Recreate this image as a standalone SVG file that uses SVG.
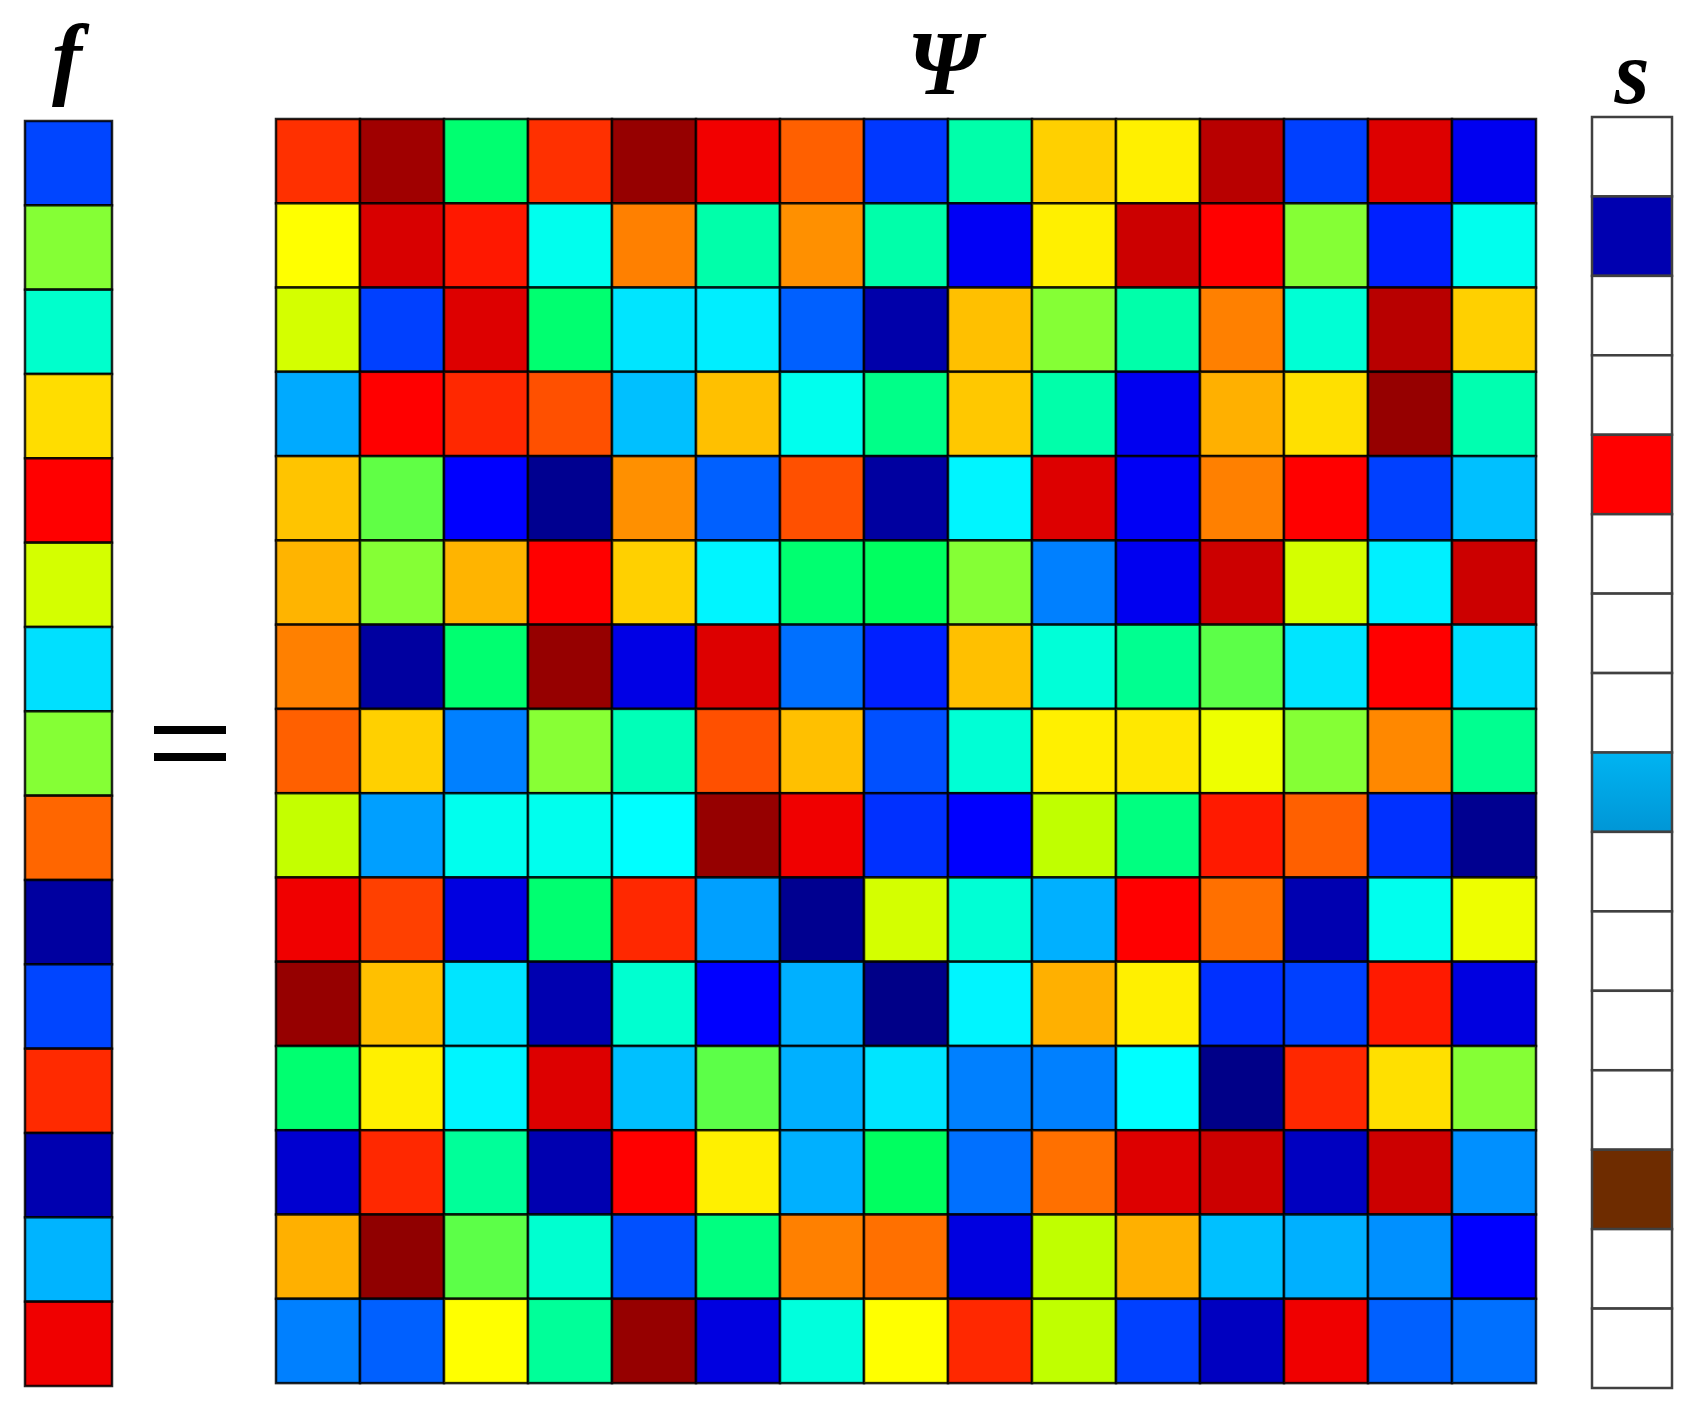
<svg xmlns="http://www.w3.org/2000/svg" width="1689" height="1406" viewBox="0 0 1689 1406">
<style>
.lbl{font-family:"Liberation Serif","Times New Roman",serif;font-weight:bold;font-style:italic;fill:#000;text-anchor:middle}
.c rect{stroke:#000;stroke-width:2.5;stroke-opacity:0.85}
.s rect{stroke:#404040;stroke-width:2.5}
</style>
<rect width="1689" height="1406" fill="#fff"/>
<g id="labels">
<text class="lbl" x="67" y="88" font-size="90">f</text>
<text class="lbl" x="944" y="94" font-size="92">Ψ</text>
<text class="lbl" x="1632" y="103" font-size="90">s</text>
</g>
<g id="equals" fill="#000">
<rect x="154" y="726" width="72" height="8"/>
<rect x="154" y="753" width="72" height="8"/>
</g>
<g id="f" class="c">
<rect x="25" y="121" width="87" height="84.3" fill="#0045FF"/>
<rect x="25" y="205.3" width="87" height="84.3" fill="#85FF35"/>
<rect x="25" y="289.7" width="87" height="84.3" fill="#00FFCC"/>
<rect x="25" y="374" width="87" height="84.3" fill="#FFDD00"/>
<rect x="25" y="458.3" width="87" height="84.3" fill="#FF0000"/>
<rect x="25" y="542.7" width="87" height="84.3" fill="#D4FF00"/>
<rect x="25" y="627" width="87" height="84.3" fill="#00E0FF"/>
<rect x="25" y="711.3" width="87" height="84.3" fill="#85FF35"/>
<rect x="25" y="795.7" width="87" height="84.3" fill="#FF6600"/>
<rect x="25" y="880" width="87" height="84.3" fill="#0000A0"/>
<rect x="25" y="964.3" width="87" height="84.3" fill="#0045FF"/>
<rect x="25" y="1048.7" width="87" height="84.3" fill="#FF2A00"/>
<rect x="25" y="1133" width="87" height="84.3" fill="#0000B0"/>
<rect x="25" y="1217.3" width="87" height="84.3" fill="#00B4FF"/>
<rect x="25" y="1301.7" width="87" height="84.3" fill="#F00000"/>
</g>
<g id="psi" class="c">
<g transform="translate(0,119)">
<rect x="276" width="84" height="84.3" fill="#FF3000"/><rect x="360" width="84" height="84.3" fill="#A00000"/><rect x="444" width="84" height="84.3" fill="#00FF70"/><rect x="528" width="84" height="84.3" fill="#FF3000"/><rect x="612" width="84" height="84.3" fill="#960000"/><rect x="696" width="84" height="84.3" fill="#F20000"/><rect x="780" width="84" height="84.3" fill="#FF6000"/><rect x="864" width="84" height="84.3" fill="#0038FF"/><rect x="948" width="84" height="84.3" fill="#00FFAA"/><rect x="1032" width="84" height="84.3" fill="#FFD000"/><rect x="1116" width="84" height="84.3" fill="#FFF000"/><rect x="1200" width="84" height="84.3" fill="#B80000"/><rect x="1284" width="84" height="84.3" fill="#0040FF"/><rect x="1368" width="84" height="84.3" fill="#DD0000"/><rect x="1452" width="84" height="84.3" fill="#0000F0"/>
</g>
<g transform="translate(0,203.3)">
<rect x="276" width="84" height="84.3" fill="#FFFF00"/><rect x="360" width="84" height="84.3" fill="#D80000"/><rect x="444" width="84" height="84.3" fill="#FF1800"/><rect x="528" width="84" height="84.3" fill="#00FFEE"/><rect x="612" width="84" height="84.3" fill="#FF8000"/><rect x="696" width="84" height="84.3" fill="#00FFAA"/><rect x="780" width="84" height="84.3" fill="#FF9000"/><rect x="864" width="84" height="84.3" fill="#00FFAA"/><rect x="948" width="84" height="84.3" fill="#0000F5"/><rect x="1032" width="84" height="84.3" fill="#FFF000"/><rect x="1116" width="84" height="84.3" fill="#CC0000"/><rect x="1200" width="84" height="84.3" fill="#FF0000"/><rect x="1284" width="84" height="84.3" fill="#85FF35"/><rect x="1368" width="84" height="84.3" fill="#0020FF"/><rect x="1452" width="84" height="84.3" fill="#00FFEE"/>
</g>
<g transform="translate(0,287.5)">
<rect x="276" width="84" height="84.3" fill="#D4FF00"/><rect x="360" width="84" height="84.3" fill="#0040FF"/><rect x="444" width="84" height="84.3" fill="#DD0000"/><rect x="528" width="84" height="84.3" fill="#00FF70"/><rect x="612" width="84" height="84.3" fill="#00E5FF"/><rect x="696" width="84" height="84.3" fill="#00EEFF"/><rect x="780" width="84" height="84.3" fill="#0060FF"/><rect x="864" width="84" height="84.3" fill="#0000AA"/><rect x="948" width="84" height="84.3" fill="#FFC000"/><rect x="1032" width="84" height="84.3" fill="#85FF35"/><rect x="1116" width="84" height="84.3" fill="#00FFAA"/><rect x="1200" width="84" height="84.3" fill="#FF8000"/><rect x="1284" width="84" height="84.3" fill="#00FFD5"/><rect x="1368" width="84" height="84.3" fill="#B80000"/><rect x="1452" width="84" height="84.3" fill="#FFD000"/>
</g>
<g transform="translate(0,371.8)">
<rect x="276" width="84" height="84.3" fill="#00AAFF"/><rect x="360" width="84" height="84.3" fill="#FF0000"/><rect x="444" width="84" height="84.3" fill="#FF2800"/><rect x="528" width="84" height="84.3" fill="#FF5000"/><rect x="612" width="84" height="84.3" fill="#00C0FF"/><rect x="696" width="84" height="84.3" fill="#FFC000"/><rect x="780" width="84" height="84.3" fill="#00FFEE"/><rect x="864" width="84" height="84.3" fill="#00FF88"/><rect x="948" width="84" height="84.3" fill="#FFC800"/><rect x="1032" width="84" height="84.3" fill="#00FFAA"/><rect x="1116" width="84" height="84.3" fill="#0000F0"/><rect x="1200" width="84" height="84.3" fill="#FFB000"/><rect x="1284" width="84" height="84.3" fill="#FFE000"/><rect x="1368" width="84" height="84.3" fill="#960000"/><rect x="1452" width="84" height="84.3" fill="#00FFB0"/>
</g>
<g transform="translate(0,456.1)">
<rect x="276" width="84" height="84.3" fill="#FFC400"/><rect x="360" width="84" height="84.3" fill="#60FF45"/><rect x="444" width="84" height="84.3" fill="#0000FF"/><rect x="528" width="84" height="84.3" fill="#000090"/><rect x="612" width="84" height="84.3" fill="#FF9000"/><rect x="696" width="84" height="84.3" fill="#0060FF"/><rect x="780" width="84" height="84.3" fill="#FF5000"/><rect x="864" width="84" height="84.3" fill="#0000A0"/><rect x="948" width="84" height="84.3" fill="#00F5FF"/><rect x="1032" width="84" height="84.3" fill="#DD0000"/><rect x="1116" width="84" height="84.3" fill="#0000F5"/><rect x="1200" width="84" height="84.3" fill="#FF8000"/><rect x="1284" width="84" height="84.3" fill="#FF0000"/><rect x="1368" width="84" height="84.3" fill="#0040FF"/><rect x="1452" width="84" height="84.3" fill="#00C0FF"/>
</g>
<g transform="translate(0,540.4)">
<rect x="276" width="84" height="84.3" fill="#FFB400"/><rect x="360" width="84" height="84.3" fill="#85FF35"/><rect x="444" width="84" height="84.3" fill="#FFB400"/><rect x="528" width="84" height="84.3" fill="#FF0000"/><rect x="612" width="84" height="84.3" fill="#FFD000"/><rect x="696" width="84" height="84.3" fill="#00F5FF"/><rect x="780" width="84" height="84.3" fill="#00FF70"/><rect x="864" width="84" height="84.3" fill="#00FF60"/><rect x="948" width="84" height="84.3" fill="#85FF35"/><rect x="1032" width="84" height="84.3" fill="#0080FF"/><rect x="1116" width="84" height="84.3" fill="#0000F0"/><rect x="1200" width="84" height="84.3" fill="#CC0000"/><rect x="1284" width="84" height="84.3" fill="#D4FF00"/><rect x="1368" width="84" height="84.3" fill="#00F0FF"/><rect x="1452" width="84" height="84.3" fill="#CC0000"/>
</g>
<g transform="translate(0,624.6)">
<rect x="276" width="84" height="84.3" fill="#FF8000"/><rect x="360" width="84" height="84.3" fill="#0000A0"/><rect x="444" width="84" height="84.3" fill="#00FF70"/><rect x="528" width="84" height="84.3" fill="#960000"/><rect x="612" width="84" height="84.3" fill="#0000E5"/><rect x="696" width="84" height="84.3" fill="#DD0000"/><rect x="780" width="84" height="84.3" fill="#0070FF"/><rect x="864" width="84" height="84.3" fill="#0020FF"/><rect x="948" width="84" height="84.3" fill="#FFC000"/><rect x="1032" width="84" height="84.3" fill="#00FFD8"/><rect x="1116" width="84" height="84.3" fill="#00FF90"/><rect x="1200" width="84" height="84.3" fill="#5CFF48"/><rect x="1284" width="84" height="84.3" fill="#00E5FF"/><rect x="1368" width="84" height="84.3" fill="#FF0000"/><rect x="1452" width="84" height="84.3" fill="#00E0FF"/>
</g>
<g transform="translate(0,708.9)">
<rect x="276" width="84" height="84.3" fill="#FF6000"/><rect x="360" width="84" height="84.3" fill="#FFD000"/><rect x="444" width="84" height="84.3" fill="#0080FF"/><rect x="528" width="84" height="84.3" fill="#88FF35"/><rect x="612" width="84" height="84.3" fill="#00FFB8"/><rect x="696" width="84" height="84.3" fill="#FF5000"/><rect x="780" width="84" height="84.3" fill="#FFC000"/><rect x="864" width="84" height="84.3" fill="#0050FF"/><rect x="948" width="84" height="84.3" fill="#00FFD5"/><rect x="1032" width="84" height="84.3" fill="#FFF000"/><rect x="1116" width="84" height="84.3" fill="#FFE800"/><rect x="1200" width="84" height="84.3" fill="#EEFF00"/><rect x="1284" width="84" height="84.3" fill="#85FF35"/><rect x="1368" width="84" height="84.3" fill="#FF8800"/><rect x="1452" width="84" height="84.3" fill="#00FF90"/>
</g>
<g transform="translate(0,793.2)">
<rect x="276" width="84" height="84.3" fill="#C4FF00"/><rect x="360" width="84" height="84.3" fill="#009FFF"/><rect x="444" width="84" height="84.3" fill="#00FFEE"/><rect x="528" width="84" height="84.3" fill="#00FFEE"/><rect x="612" width="84" height="84.3" fill="#00FFFF"/><rect x="696" width="84" height="84.3" fill="#960000"/><rect x="780" width="84" height="84.3" fill="#F00000"/><rect x="864" width="84" height="84.3" fill="#0030FF"/><rect x="948" width="84" height="84.3" fill="#0000FF"/><rect x="1032" width="84" height="84.3" fill="#C0FF00"/><rect x="1116" width="84" height="84.3" fill="#00FF80"/><rect x="1200" width="84" height="84.3" fill="#FF1A00"/><rect x="1284" width="84" height="84.3" fill="#FF6000"/><rect x="1368" width="84" height="84.3" fill="#0030FF"/><rect x="1452" width="84" height="84.3" fill="#000090"/>
</g>
<g transform="translate(0,877.4)">
<rect x="276" width="84" height="84.3" fill="#F00000"/><rect x="360" width="84" height="84.3" fill="#FF4000"/><rect x="444" width="84" height="84.3" fill="#0000E0"/><rect x="528" width="84" height="84.3" fill="#00FF70"/><rect x="612" width="84" height="84.3" fill="#FF2800"/><rect x="696" width="84" height="84.3" fill="#00A0FF"/><rect x="780" width="84" height="84.3" fill="#000090"/><rect x="864" width="84" height="84.3" fill="#D4FF00"/><rect x="948" width="84" height="84.3" fill="#00FFD5"/><rect x="1032" width="84" height="84.3" fill="#00B0FF"/><rect x="1116" width="84" height="84.3" fill="#FF0000"/><rect x="1200" width="84" height="84.3" fill="#FF7000"/><rect x="1284" width="84" height="84.3" fill="#0000B0"/><rect x="1368" width="84" height="84.3" fill="#00FFEE"/><rect x="1452" width="84" height="84.3" fill="#EEFF00"/>
</g>
<g transform="translate(0,961.7)">
<rect x="276" width="84" height="84.3" fill="#960000"/><rect x="360" width="84" height="84.3" fill="#FFC000"/><rect x="444" width="84" height="84.3" fill="#00E5FF"/><rect x="528" width="84" height="84.3" fill="#0000B0"/><rect x="612" width="84" height="84.3" fill="#00FFD0"/><rect x="696" width="84" height="84.3" fill="#0000FF"/><rect x="780" width="84" height="84.3" fill="#00B0FF"/><rect x="864" width="84" height="84.3" fill="#000088"/><rect x="948" width="84" height="84.3" fill="#00F5FF"/><rect x="1032" width="84" height="84.3" fill="#FFB000"/><rect x="1116" width="84" height="84.3" fill="#FFF000"/><rect x="1200" width="84" height="84.3" fill="#0030FF"/><rect x="1284" width="84" height="84.3" fill="#0040FF"/><rect x="1368" width="84" height="84.3" fill="#FF1A00"/><rect x="1452" width="84" height="84.3" fill="#0000E0"/>
</g>
<g transform="translate(0,1046)">
<rect x="276" width="84" height="84.3" fill="#00FF70"/><rect x="360" width="84" height="84.3" fill="#FFF000"/><rect x="444" width="84" height="84.3" fill="#00F5FF"/><rect x="528" width="84" height="84.3" fill="#DD0000"/><rect x="612" width="84" height="84.3" fill="#00C0FF"/><rect x="696" width="84" height="84.3" fill="#5CFF48"/><rect x="780" width="84" height="84.3" fill="#00B0FF"/><rect x="864" width="84" height="84.3" fill="#00E5FF"/><rect x="948" width="84" height="84.3" fill="#0080FF"/><rect x="1032" width="84" height="84.3" fill="#0080FF"/><rect x="1116" width="84" height="84.3" fill="#00FFFF"/><rect x="1200" width="84" height="84.3" fill="#000088"/><rect x="1284" width="84" height="84.3" fill="#FF2800"/><rect x="1368" width="84" height="84.3" fill="#FFE000"/><rect x="1452" width="84" height="84.3" fill="#85FF35"/>
</g>
<g transform="translate(0,1130.2)">
<rect x="276" width="84" height="84.3" fill="#0000D0"/><rect x="360" width="84" height="84.3" fill="#FF2800"/><rect x="444" width="84" height="84.3" fill="#00FF99"/><rect x="528" width="84" height="84.3" fill="#0000B0"/><rect x="612" width="84" height="84.3" fill="#FF0000"/><rect x="696" width="84" height="84.3" fill="#FFF000"/><rect x="780" width="84" height="84.3" fill="#00B0FF"/><rect x="864" width="84" height="84.3" fill="#00FF60"/><rect x="948" width="84" height="84.3" fill="#0070FF"/><rect x="1032" width="84" height="84.3" fill="#FF7000"/><rect x="1116" width="84" height="84.3" fill="#DD0000"/><rect x="1200" width="84" height="84.3" fill="#CC0000"/><rect x="1284" width="84" height="84.3" fill="#0000C0"/><rect x="1368" width="84" height="84.3" fill="#CC0000"/><rect x="1452" width="84" height="84.3" fill="#0090FF"/>
</g>
<g transform="translate(0,1214.5)">
<rect x="276" width="84" height="84.3" fill="#FFB000"/><rect x="360" width="84" height="84.3" fill="#900000"/><rect x="444" width="84" height="84.3" fill="#5CFF48"/><rect x="528" width="84" height="84.3" fill="#00FFD0"/><rect x="612" width="84" height="84.3" fill="#0050FF"/><rect x="696" width="84" height="84.3" fill="#00FF80"/><rect x="780" width="84" height="84.3" fill="#FF8000"/><rect x="864" width="84" height="84.3" fill="#FF7000"/><rect x="948" width="84" height="84.3" fill="#0000E0"/><rect x="1032" width="84" height="84.3" fill="#C0FF00"/><rect x="1116" width="84" height="84.3" fill="#FFB000"/><rect x="1200" width="84" height="84.3" fill="#00C0FF"/><rect x="1284" width="84" height="84.3" fill="#00B0FF"/><rect x="1368" width="84" height="84.3" fill="#0090FF"/><rect x="1452" width="84" height="84.3" fill="#0000FF"/>
</g>
<g transform="translate(0,1298.8)">
<rect x="276" width="84" height="84.3" fill="#0080FF"/><rect x="360" width="84" height="84.3" fill="#0060FF"/><rect x="444" width="84" height="84.3" fill="#FFFF00"/><rect x="528" width="84" height="84.3" fill="#00FF99"/><rect x="612" width="84" height="84.3" fill="#960000"/><rect x="696" width="84" height="84.3" fill="#0000E0"/><rect x="780" width="84" height="84.3" fill="#00FFDD"/><rect x="864" width="84" height="84.3" fill="#FFFF00"/><rect x="948" width="84" height="84.3" fill="#FF2800"/><rect x="1032" width="84" height="84.3" fill="#C0FF00"/><rect x="1116" width="84" height="84.3" fill="#0040FF"/><rect x="1200" width="84" height="84.3" fill="#0000C0"/><rect x="1284" width="84" height="84.3" fill="#F00000"/><rect x="1368" width="84" height="84.3" fill="#0060FF"/><rect x="1452" width="84" height="84.3" fill="#0070FF"/>
</g>
</g>
<defs>
<linearGradient id="lb" x1="0" y1="0" x2="0" y2="1">
<stop offset="0" stop-color="#00B4F2"/>
<stop offset="1" stop-color="#0096D6"/>
</linearGradient>
</defs>
<g id="s" class="s">
<rect x="1592" y="117" width="80" height="79.4" fill="#fff"/>
<rect x="1592" y="196.4" width="80" height="79.4" fill="#0000B0"/>
<rect x="1592" y="275.9" width="80" height="79.4" fill="#fff"/>
<rect x="1592" y="355.3" width="80" height="79.4" fill="#fff"/>
<rect x="1592" y="434.8" width="80" height="79.4" fill="#FF0000"/>
<rect x="1592" y="514.2" width="80" height="79.4" fill="#fff"/>
<rect x="1592" y="593.6" width="80" height="79.4" fill="#fff"/>
<rect x="1592" y="673.1" width="80" height="79.4" fill="#fff"/>
<rect x="1592" y="752.5" width="80" height="79.4" fill="url(#lb)"/>
<rect x="1592" y="831.9" width="80" height="79.4" fill="#fff"/>
<rect x="1592" y="911.4" width="80" height="79.4" fill="#fff"/>
<rect x="1592" y="990.8" width="80" height="79.4" fill="#fff"/>
<rect x="1592" y="1070.3" width="80" height="79.4" fill="#fff"/>
<rect x="1592" y="1149.7" width="80" height="79.4" fill="#6E2C00"/>
<rect x="1592" y="1229.1" width="80" height="79.4" fill="#fff"/>
<rect x="1592" y="1308.6" width="80" height="79.4" fill="#fff"/>
</g>
</svg>
